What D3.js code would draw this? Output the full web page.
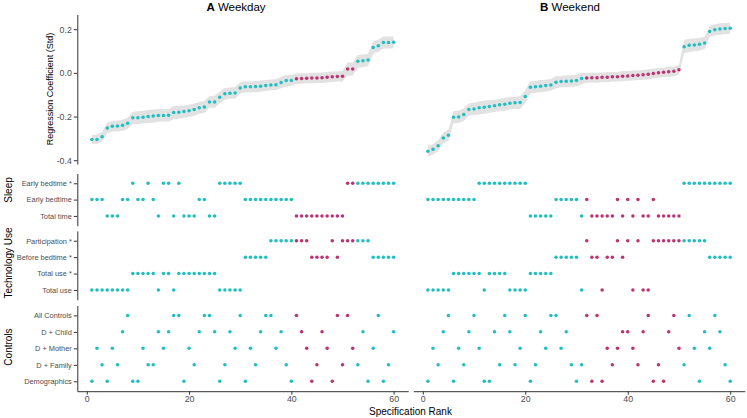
<!DOCTYPE html>
<html><head><meta charset="utf-8">
<script src="https://cdn.jsdelivr.net/npm/d3@7"></script>
<style>body{margin:0;background:#fff}svg{display:block}text{font-family:"Liberation Sans",Arial,sans-serif}</style>
</head><body><svg id="c" width="747" height="418"></svg>
<script>
// ---------- categories / labels ----------
const sleepRows = ["Early bedtime *", "Early bedtime", "Total time"];
const techRows = ["Participation *", "Before bedtime *", "Total use *", "Total use"];
const controlRows = ["All Controls", "D + Child", "D + Mother", "D + Family", "Demographics"];
const groupLabels = ["Sleep", "Technology Use", "Controls"];
const panelTitles = [["A", "Weekday"], ["B", "Weekend"]];
const yTicks = [0.2, 0.0, -0.2, -0.4];
const xTicks = [0, 20, 40, 60];
const yTitle = "Regression Coefficient (Std)";
const xTitle = "Specification Rank";

// ---------- Panel A (Weekday), specifications ranked 1..60 ----------
const coefA = [-0.305,-0.305,-0.293,-0.253,-0.244,-0.243,-0.240,-0.231,-0.206,-0.205,
  -0.203,-0.200,-0.198,-0.195,-0.195,-0.194,-0.182,-0.180,-0.177,-0.174,
  -0.168,-0.160,-0.156,-0.133,-0.133,-0.112,-0.096,-0.093,-0.092,-0.069,
  -0.064,-0.064,-0.063,-0.061,-0.058,-0.055,-0.054,-0.044,-0.035,-0.035,
  -0.027,-0.026,-0.025,-0.024,-0.023,-0.022,-0.020,-0.018,-0.017,-0.016,
  0.018,0.018,0.053,0.055,0.059,0.116,0.124,0.139,0.139,0.140];
const ciA = [0.020,0.021,0.022,0.024,0.024,0.025,0.025,0.026,0.028,0.029,
  0.029,0.030,0.030,0.029,0.028,0.029,0.030,0.029,0.028,0.028,
  0.028,0.027,0.027,0.027,0.028,0.027,0.027,0.026,0.027,0.026,
  0.026,0.025,0.026,0.026,0.025,0.025,0.025,0.026,0.026,0.025,
  0.024,0.024,0.023,0.024,0.023,0.024,0.024,0.024,0.023,0.024,
  0.030,0.030,0.029,0.029,0.028,0.028,0.028,0.027,0.027,0.027];
// indices into sleepRows / techRows / controlRows
const sleepA = [1,1,1,2,2,2,1,1,0,1, 1,0,1,2,0,0,2,0,2,2, 2,1,1,2,2,0,0,0,0,0,
  1,1,1,1,1,1,1,1,1,1, 2,2,2,2,2,2,2,2,2,2, 0,0,0,0,0,0,0,0,0,0];
const techA = [3,3,3,3,3,3,3,3,2,2, 2,2,2,3,2,2,3,2,2,2, 2,2,2,2,2,3,3,3,3,3,
  1,1,1,1,1,0,0,0,0,0, 0,0,0,1,1,1,1,0,1,0, 0,0,0,0,0,1,1,1,1,1];
const ctrlA = [4,2,3,4,2,3,1,0,4,4, 2,3,3,1,2,1,0,0,4,2, 3,1,0,0,1,4,3,1,2,0,
  4,2,3,1,0,0,2,1,3,4, 0,1,2,4,3,1,2,4,0,3, 0,2,3,1,4,2,0,4,3,1];
const nonSigA = [41,42,43,44,45,46,47,48,49,50,51,52];

// ---------- Panel B (Weekend) ----------
const coefB = [-0.359,-0.350,-0.334,-0.298,-0.286,-0.203,-0.202,-0.191,-0.168,-0.165,
  -0.160,-0.157,-0.154,-0.151,-0.146,-0.144,-0.139,-0.137,-0.136,-0.108,
  -0.066,-0.064,-0.061,-0.058,-0.055,-0.043,-0.040,-0.038,-0.037,-0.035,
  -0.026,-0.023,-0.022,-0.022,-0.020,-0.020,-0.018,-0.018,-0.015,-0.014,
  -0.012,-0.011,-0.009,-0.006,-0.003,0.000,0.003,0.005,0.007,0.014,
  0.120,0.126,0.128,0.131,0.137,0.190,0.197,0.201,0.203,0.204];
const ciB = [0.024,0.024,0.025,0.025,0.026,0.028,0.028,0.029,0.028,0.029,
  0.029,0.030,0.029,0.028,0.028,0.029,0.028,0.028,0.029,0.030,
  0.027,0.027,0.028,0.027,0.027,0.027,0.026,0.027,0.026,0.027,
  0.026,0.022,0.022,0.023,0.022,0.023,0.022,0.022,0.023,0.022,
  0.023,0.022,0.022,0.023,0.022,0.022,0.022,0.023,0.022,0.022,
  0.030,0.030,0.029,0.029,0.028,0.026,0.026,0.026,0.025,0.026];
const sleepB = [1,1,1,1,1,1,1,1,1,1, 0,0,0,0,0,0,0,0,0,0, 2,2,2,2,2,1,1,1,1,1,
  2,1,2,2,2,2,2,1,2,1, 2,1,2,2,1,2,2,2,2,2, 0,0,0,0,0,0,0,0,0,0];
const techB = [3,3,3,3,3,2,2,2,2,2, 2,3,2,2,2,2,3,3,3,3, 2,2,2,2,2,1,1,1,1,1,
  3,0,1,1,3,1,1,0,1,0, 3,0,3,3,0,0,0,0,0,0, 0,0,0,0,0,1,1,1,1,1];
const ctrlB = [4,2,3,1,0,4,2,3,1,0, 2,4,4,1,3,0,1,3,2,0, 4,3,1,2,0,0,2,1,3,4,
  3,0,4,0,4,2,3,2,1,1, 2,3,1,0,4,3,4,1,0,2, 3,0,2,4,1,2,0,1,3,4];
const nonSigB = [32,33,34,35,36,37,38,39,40,41,42,43,44,45,46,47,48,49,50];

// ---------- styling ----------
const teal = "#1fbec3", pink = "#bc3370", ribbonCol = "#e2e2e2";
const axisCol = "#333333", tickText = "#4d4d4d";

const svg = d3.select("#c");

const yTop = d3.scaleLinear().domain([-0.4, 0.2]).range([160.2, 29.2]);
const topPix = [164, 14.5];
const yTopAxis = yTop.copy().domain(topPix.map(v => yTop.invert(v))).range(topPix);

const rowGroups = [
  {rows: sleepRows, key: "sleep", range: [173.5, 225.7], labelY: 190},
  {rows: techRows, key: "tech", range: [230.9, 299.8], labelY: 263},
  {rows: controlRows, key: "ctrl", range: [305.5, 391.2], labelY: 347}
];
rowGroups.forEach(g => {
  g.scale = d3.scalePoint().domain(g.rows).range(g.range).padding(0.6);
});

const panels = [
  {coef: coefA, ci: ciA, sleep: sleepA, tech: techA, ctrl: ctrlA, nonSig: nonSigA,
   px: [77.3, 408.2], axis: true, title: panelTitles[0], titleX: 236},
  {coef: coefB, ci: ciB, sleep: sleepB, tech: techB, ctrl: ctrlB, nonSig: nonSigB,
   px: [413.3, 744.8], axis: false, title: panelTitles[1], titleX: 570}
];

function styleAxis(g, fs) {
  g.select(".domain").attr("stroke", axisCol).attr("stroke-width", 1);
  g.selectAll(".tick line").attr("stroke", axisCol).attr("stroke-width", 1);
  g.selectAll(".tick text").attr("fill", tickText).style("font-size", fs + "px")
    .style("font-family", '"Liberation Sans", Arial, sans-serif');
}

panels.forEach(p => {
  const x = d3.scaleLinear().domain([-1.85, 62.85]).range(p.px);
  const data = p.coef.map((c, i) => ({
    r: i + 1, c, lo: c - p.ci[i], hi: c + p.ci[i],
    col: p.nonSig.includes(i + 1) ? pink : teal,
    sleep: sleepRows[p.sleep[i]], tech: techRows[p.tech[i]], ctrl: controlRows[p.ctrl[i]]
  }));

  // title
  const t = svg.append("text").attr("x", p.titleX).attr("y", 11)
    .attr("text-anchor", "middle").style("font-size", "11.5px").attr("fill", "#000");
  t.append("tspan").style("font-weight", "bold").text(p.title[0]);
  t.append("tspan").text(" " + p.title[1]);

  // ribbon
  const area = d3.area().x(d => x(d.r)).y0(d => yTop(d.lo)).y1(d => yTop(d.hi));
  svg.append("path").datum(data).attr("d", area).attr("fill", ribbonCol);

  // coefficient points
  svg.append("g").selectAll("circle").data(data).join("circle")
    .attr("cx", d => x(d.r)).attr("cy", d => yTop(d.c)).attr("r", 1.75)
    .attr("fill", d => d.col);

  if (p.axis) {
    const ga = svg.append("g").attr("transform", `translate(${p.px[0]},0)`)
      .call(d3.axisLeft(yTopAxis).tickValues(yTicks).tickSize(3.5).tickSizeOuter(0)
        .tickPadding(2).tickFormat(d => d.toFixed(1)));
    styleAxis(ga, 8.8);
  }

  // specification rows
  rowGroups.forEach(g => {
    svg.append("g").selectAll("circle").data(data).join("circle")
      .attr("cx", d => x(d.r)).attr("cy", d => g.scale(d[g.key])).attr("r", 1.75)
      .attr("fill", d => d.col);
    if (p.axis) {
      const ga = svg.append("g").attr("transform", `translate(${p.px[0]},0)`)
        .call(d3.axisLeft(g.scale).tickSize(3.5).tickSizeOuter(0).tickPadding(2));
      styleAxis(ga, 7.4);
    }
  });

  // x axis at bottom of controls panel
  const gx = svg.append("g").attr("transform", `translate(0,${rowGroups[2].range[1]})`)
    .call(d3.axisBottom(x).tickValues(xTicks).tickSize(3.5).tickSizeOuter(0).tickPadding(1.5));
  styleAxis(gx, 8.8);
});

// group labels
rowGroups.forEach((g, i) => {
  svg.append("text").attr("transform", `translate(11.5,${g.labelY}) rotate(-90)`)
    .attr("text-anchor", "middle").style("font-size", "10px").attr("fill", "#000")
    .text(groupLabels[i]);
});

// axis titles
svg.append("text").attr("transform", "translate(53,89) rotate(-90)")
  .attr("text-anchor", "middle").style("font-size", "9px").attr("fill", "#000").text(yTitle);
svg.append("text").attr("x", 410.5).attr("y", 414.5).attr("text-anchor", "middle")
  .style("font-size", "10px").attr("fill", "#000").text(xTitle);
</script></body></html>
